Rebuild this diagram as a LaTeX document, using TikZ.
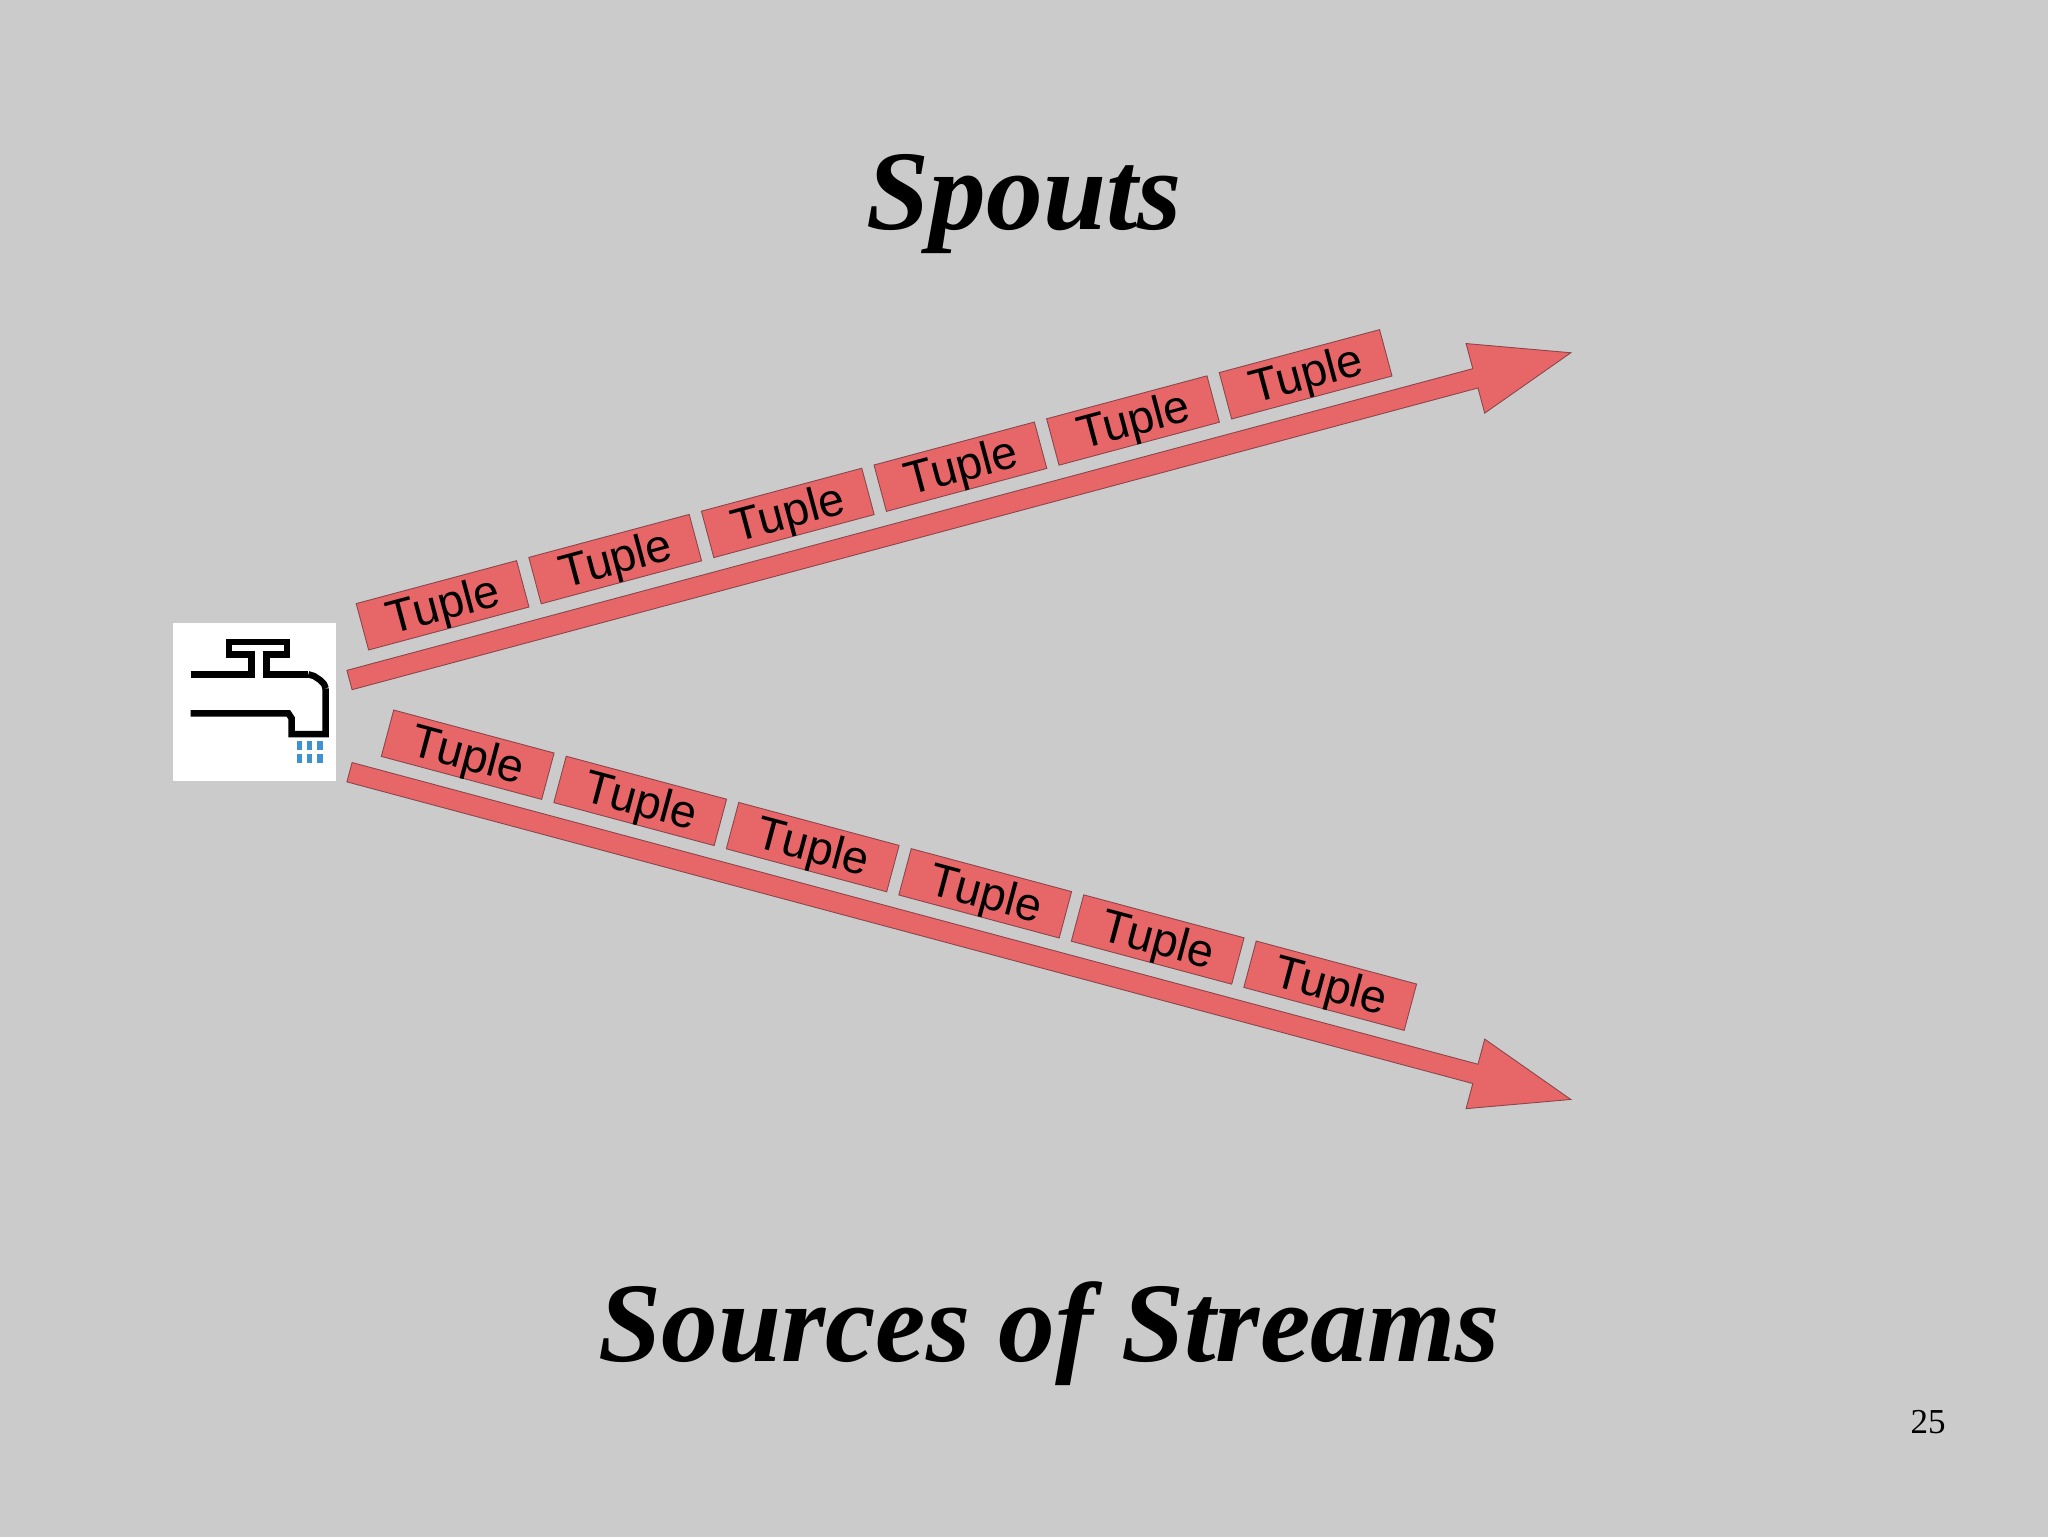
\documentclass[tikz,border=0pt]{standalone}
\usepackage{fontspec}
\setmainfont{Liberation Serif}
\newfontfamily\tuplefont{Liberation Sans}
\definecolor{slidegrey}{RGB}{203,203,204}
\definecolor{streamred}{RGB}{231,103,105}
\definecolor{streamedge}{RGB}{140,70,75}
\definecolor{dropblue}{RGB}{62,146,208}
\tikzset{
  titletext/.style={font=\fontsize{113.4}{120}\selectfont\bfseries\itshape,anchor=base,inner sep=0pt},
  tuplebox/.style={draw=streamedge,fill=streamred,line width=0.9pt,minimum width=166pt,minimum height=48pt,
    inner sep=0pt,text height=39pt,text depth=9pt,font=\tuplefont\fontsize{46.5}{46.5}\selectfont},
  streamarrow/.style={draw=streamedge,fill=streamred,line width=0.9pt,line join=miter},
  tapline/.style={line width=6.5pt,black,line join=round}
}
\begin{document}
\begin{tikzpicture}[x=1pt,y=-1pt]
  \useasboundingbox (0,0) rectangle (2048,1537);
  \fill[slidegrey] (0,0) rectangle (2048,1537);
  % titles
  \node[titletext] (spouts) at (1024.5,229) {Spouts};
  \node[titletext] (sources) at (1049,1361) {Sources of Streams};
  \node[font=\fontsize{35}{35}\selectfont,anchor=base,inner sep=0pt] (pagenum) at (1928,1433) {25};
  % tap
  \node[fill=white,minimum width=162.7pt,minimum height=157.4pt,inner sep=0pt] (tapbox) at (254.6,702) {};
  \begin{scope}[shift={(160,580)},scale=1/3]
    \draw[tapline,line join=miter] (92,283) -- (275,283) -- (275,223) -- (207,223) -- (207,186) -- (381,186) -- (381,223)
      -- (319,223) -- (319,283) -- (445,283);
    \draw[tapline] (445,283) -- (462,288) -- (480,300) -- (492,312) -- (497,325);
    \draw[tapline,line join=miter] (497,325) -- (497,462) -- (395,462) -- (395,415) -- (385,400) -- (92,400);
    \foreach \x in {418,448,480} {
      \foreach \y in {496,535} {
        \fill[dropblue] (\x-8,\y-14) rectangle (\x+8,\y+14);
      }
    }
  \end{scope}
  % streams
  \foreach \name/\ytail/\ang in {upper/680/15,lower/772.2/-15} {
    \begin{scope}[shift={(349.5,\ytail)},rotate=\ang]
      \draw[streamarrow] (0,-10) -- (1165.6,-10) -- (1165.6,-36) -- (1264.4,0) -- (1165.6,36) -- (1165.6,10) -- (0,10) -- cycle;
    \end{scope}
  }
  % tuples
  \foreach \i in {0,...,5} {
    \node[tuplebox,rotate=15] (upper\i) at ({442.6+172.6*\i},{605.3-46.2*\i}) {\hspace*{1pt}Tuple};
    \node[tuplebox,rotate=-15] (lower\i) at ({467.7+172.5*\i},{754.7+46.2*\i}) {\hspace*{1pt}Tuple};
  }
\end{tikzpicture}
\end{document}
